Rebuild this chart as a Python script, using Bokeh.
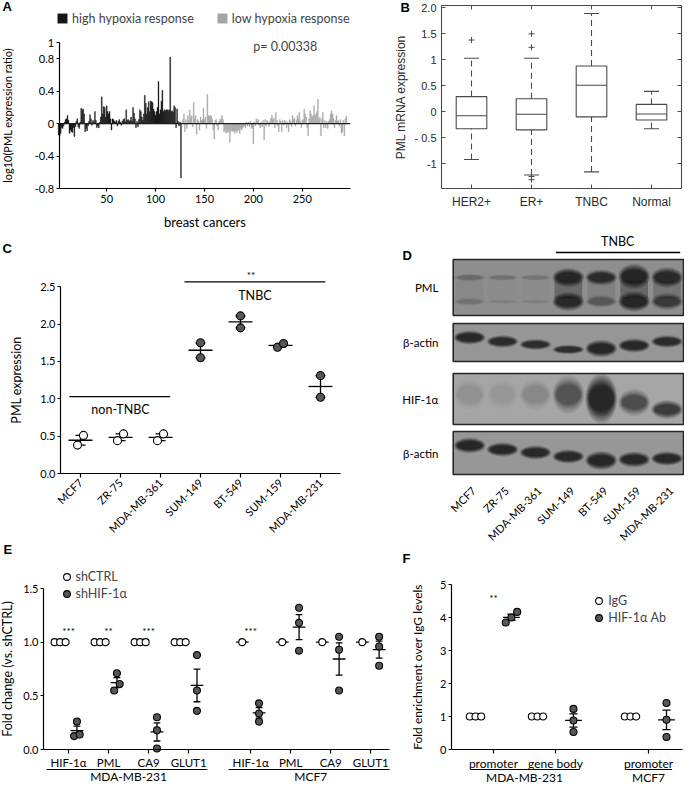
import math
import numpy as np
from bokeh.plotting import figure
from bokeh.layouts import row, column
from bokeh.models import Range1d, FixedTicker, LinearAxis, Legend, LegendItem, Label
from bokeh.core.properties import value
from bokeh.embed import file_html
from bokeh.resources import INLINE

FONT = "Lato"
FONT_B = "Liberation Sans"

# ---------------- Panel A data ----------------
A_high = [
    -0.14, -0.15, -0.12, -0.05, -0.06, -0.03, 0.02, 0.05, 0.06, 0.10,
    0.04, -0.12, -0.08, -0.10, -0.11, -0.05, -0.16, -0.04, 0.03, 0.06,
    -0.04, -0.06, 0.02, 0.19, 0.17, 0.18, 0.12, -0.10, -0.06, -0.09,
    -0.03, 0.03, 0.11, 0.06, -0.02, 0.04, 0.02, 0.15, 0.04, -0.05,
    -0.03, -0.05, 0.02, 0.08, 0.33, 0.12, 0.21, 0.20, 0.08, 0.22,
    0.15, 0.12, 0.15, 0.06, -0.08, 0.06, 0.05, 0.03, 0.02, 0.04,
    -0.03, 0.03, 0.05, 0.02, -0.02, 0.03, 0.05, 0.06, 0.02, 0.17,
    0.04, 0.05, 0.03, 0.04, 0.08, 0.03, 0.20, 0.13, 0.06, -0.05,
    0.03, -0.04, 0.05, 0.17, 0.15, 0.08, 0.04, 0.12, 0.35, 0.25,
    0.12, 0.20, 0.27, 0.15, 0.28, 0.27, 0.26, 0.18, 0.15, 0.10,
    0.15, 0.20, 0.52, 0.12, 0.17, 0.28, 0.41, 0.15, 0.17, 0.16,
    0.17, 0.17, 0.16, 0.17, 0.82, 0.15, 0.16, 0.14, 0.22, 0.20,
    -0.05, 0.18, 0.03, -0.03, 0.02, -0.67,
]
A_low = [
    0.02, 0.05, 0.12, -0.10, 0.05, -0.06, 0.10, 0.04, 0.17, 0.08,
    0.10, -0.04, 0.26, 0.06, 0.10, -0.13, 0.05, 0.03, -0.08, 0.08,
    0.04, 0.05, 0.19, 0.05, 0.08, -0.06, 0.36, 0.10, 0.09, 0.10,
    0.09, 0.05, -0.08, -0.19, 0.04, 0.05, -0.03, -0.08, 0.03, 0.05,
    0.06, 0.10, 0.05, -0.10, -0.08, -0.12, -0.10, -0.11, -0.09, -0.23,
    -0.10, -0.08, -0.10, -0.09, -0.12, -0.08, -0.11, -0.09, -0.07, -0.12,
    -0.06, -0.08, -0.05, -0.04, -0.03, -0.05, 0.02, -0.03, 0.02, -0.04,
    0.03, -0.06, -0.05, -0.25, 0.02, -0.03, 0.06, 0.03, 0.05, -0.02,
    -0.05, 0.02, -0.04, 0.04, -0.20, 0.05, -0.03, 0.04, 0.02, -0.04,
    0.03, 0.07, 0.10, 0.05, 0.07, -0.05, 0.14, 0.04, -0.03, -0.10,
    0.05, 0.03, -0.10, 0.04, -0.02, 0.04, 0.03, -0.05, 0.02, -0.10,
    0.05, 0.03, -0.04, 0.10, 0.05, 0.07, -0.03, 0.04, 0.10, 0.06,
    0.14, 0.03, -0.05, 0.04, 0.05, 0.18, 0.12, 0.08, -0.05, -0.15,
    0.06, 0.16, 0.12, 0.08, 0.10, 0.22, 0.10, 0.12, 0.15, 0.30,
    0.05, 0.08, -0.15, 0.06, 0.14, -0.05, 0.04, -0.05, 0.03, -0.06,
    0.03, 0.05, 0.12, 0.16, 0.12, 0.06, -0.05, 0.04, 0.10, 0.03,
    0.04, -0.03, 0.05, -0.12, -0.10, 0.04, -0.15, 0.06, 0.09,
]
A_pvalue = "p= 0.00338"
A_legend = ["high hypoxia response", "low hypoxia response"]
A_xticks = [50, 100, 150, 200, 250]
A_yticks = [-0.8, -0.4, 0, 0.4, 0.8, 1]
A_yticklabels = ["-0.8", "-0.4", "0", "0.4", "0.8", "1"]

# ---------------- Panel B data ----------------
B_groups = ["HER2+", "ER+", "TNBC", "Normal"]
B_q1 = [-0.33, -0.35, -0.10, -0.16]
B_med = [-0.08, -0.05, 0.51, -0.045]
B_q3 = [0.29, 0.25, 0.88, 0.14]
B_lo = [-0.92, -1.22, -1.16, -0.33]
B_hi = [1.03, 1.03, 1.89, 0.39]
B_out_group = [0, 1, 1, 1, 1]
B_out_val = [1.38, 1.50, 1.24, -1.25, -1.31]
B_yticks = [-1, -0.5, 0, 0.5, 1, 1.5, 2]
B_yticklabels = ["-1", "- 0.5", "0", "0.5", "1", "1.5", "2.0"]

# ---------------- Panel C data ----------------
C_cells = ["MCF7", "ZR-75", "MDA-MB-361", "SUM-149", "BT-549", "SUM-159", "MDA-MB-231"]
C_vals = [[0.38, 0.51], [0.44, 0.53], [0.44, 0.53], [1.55, 1.75],
          [1.95, 2.11], [1.69, 1.74], [1.02, 1.31]]
C_tnbc = [0, 0, 0, 1, 1, 1, 1]
C_yticks = [0, 0.5, 1, 1.5, 2, 2.5]
C_yticklabels = ["0.0", "0.5", "1.0", "1.5", "2.0", "2.5"]

# ---------------- Panel D data (band intensities, 0-1) ----------------
D_lanes = ["MCF7", "ZR-75", "MDA-MB-361", "SUM-149", "BT-549", "SUM-159", "MDA-MB-231"]
D_rows = ["PML", "β-actin", "HIF-1α", "β-actin"]
D_pml_upper = [0.20, 0.14, 0.12, 0.95, 0.85, 0.98, 0.90]
D_pml_lower = [0.14, 0.05, 0.05, 0.90, 0.32, 0.95, 0.62]
D_actin1 = [0.95, 0.90, 0.85, 0.85, 0.97, 0.92, 0.90]
D_hif = [0.07, 0.04, 0.12, 0.45, 1.0, 0.50, 0.68]
D_actin2 = [0.97, 0.95, 0.92, 0.92, 0.97, 0.95, 0.95]

# ---------------- Panel E data ----------------
E_genes = ["HIF-1α", "PML", "CA9", "GLUT1"]
E_cells = ["MDA-MB-231", "MCF7"]
E_ctrl = [[[1.0, 1.0, 1.0], [1.0, 1.0, 1.0], [1.0, 1.0, 1.0], [1.0, 1.0, 1.0]],
          [[1.0], [1.0], [1.0], [1.0]]]
E_sh = [[[0.26, 0.125, 0.14], [0.71, 0.55, 0.61], [0.30, 0.18, 0.01], [0.88, 0.55, 0.36]],
        [[0.43, 0.335, 0.26], [1.32, 1.18, 0.92], [1.05, 0.93, 0.55], [1.05, 0.96, 0.78]]]
E_stars = [["***", "**", "***", ""], ["***", "", "", ""]]
E_legend = ["shCTRL", "shHIF-1α"]
E_yticks = [0, 0.5, 1, 1.5]
E_yticklabels = ["0.0", "0.5", "1.0", "1.5"]

# ---------------- Panel F data ----------------
F_regions = ["promoter", "gene body", "promoter"]
F_region_cell = [0, 0, 1]
F_cells = ["MDA-MB-231", "MCF7"]
F_igg = [[1.0, 1.0, 1.0], [1.0, 1.0, 1.0], [1.0, 1.0, 1.0]]
F_hif = [[4.17, 3.85, 4.0], [1.23, 0.88, 0.53], [1.41, 0.90, 0.38]]
F_stars = ["**", "", ""]
F_legend = ["IgG", "HIF-1α Ab"]
F_yticks = [0, 1, 2, 3, 4, 5]

# ---------------- helpers ----------------
DOT = "#575757"


def xr(W, v0, px0, ppu):
    a = v0 - px0 / ppu
    return Range1d(a, a + W / ppu)


def yr(H, v0, py0, ppu):
    top = v0 + py0 / ppu
    return Range1d(top - H / ppu, top)


def make_fig(W, H, xrange, yrange):
    p = figure(width=W, height=H, x_range=xrange, y_range=yrange, min_border=0, title=None,
               output_backend="svg", toolbar_location=None)
    p.outline_line_color = None
    p.grid.visible = False
    return p


def style_axes(p, font=FONT, size="11px", tick_out=4):
    for ax in p.axis:
        ax.axis_line_color = "black"
        ax.axis_line_width = 1.2
        ax.major_tick_line_color = "black"
        ax.major_tick_line_width = 1.2
        ax.major_tick_in = 0
        ax.major_tick_out = tick_out
        ax.minor_tick_line_color = None
        ax.major_label_text_font = font
        ax.major_label_text_font_size = size
        ax.major_label_text_color = "black"
        ax.axis_label_text_font = font
        ax.axis_label_text_font_style = "normal"
        ax.axis_label_text_color = "black"


def letter(p, txt, x, y):
    p.add_layout(Label(x=x, y=y, x_units="screen", y_units="screen", text=txt,
                       text_font=FONT_B, text_font_style="bold", text_font_size="13px",
                       text_baseline="middle", text_align="left", text_color="black"))


def spread(vals, ppu, thr, step):
    order = sorted(range(len(vals)), key=lambda i: vals[i])
    clusters = []
    for i in order:
        if clusters and (vals[i] - vals[clusters[-1][-1]]) * ppu < thr:
            clusters[-1].append(i)
        else:
            clusters.append([i])
    offs = [0.0] * len(vals)
    for c in clusters:
        n = len(c)
        for j, i in enumerate(c):
            offs[i] = (j - (n - 1) / 2) * step
    return offs


def add_points(p, centers, groups, ppu, thr, step, size, fill):
    xs, ys = [], []
    for c, vals in zip(centers, groups):
        offs = spread(vals, ppu, thr, step)
        xs += [c + o for o in offs]
        ys += list(vals)
    return p.scatter(x=xs, y=ys, size=size, marker="circle", fill_color=fill,
                     line_color="black", line_width=1.1)


def add_stats(p, centers, groups, hw, cw, lw=1.3):
    x0, x1, y0, y1 = [], [], [], []
    for c, vals in zip(centers, groups):
        a = np.asarray(vals, float)
        m = float(a.mean())
        s = float(a.std(ddof=1) / np.sqrt(len(a))) if len(a) > 1 else 0.0
        x0.append(c - hw); x1.append(c + hw); y0.append(m); y1.append(m)
        if s > 1e-9:
            x0 += [c, c - cw, c - cw]
            x1 += [c, c + cw, c + cw]
            y0 += [m - s, m - s, m + s]
            y1 += [m + s, m - s, m + s]
    p.segment(x0=x0, y0=y0, x1=x1, y1=y1, line_color="black", line_width=lw)


# ================= Panel A =================
AW, AH = 394, 237
A_xb = (1.5, 299)
A_yb = (-0.8, 1.0)
pA = make_fig(AW, AH, xr(AW, A_xb[0], 58.7, 291 / (A_xb[1] - A_xb[0])),
              yr(AH, A_yb[1], 42, 146 / (A_yb[1] - A_yb[0])))
xh = list(range(1, len(A_high) + 1))
xl = list(range(len(A_high) + 1, len(A_high) + len(A_low) + 1))
rh = pA.vbar(x=xh, top=A_high, bottom=0, width=1.0, fill_color="#161616",
             line_color="#161616", line_width=0.3)
rl = pA.vbar(x=xl, top=A_low, bottom=0, width=1.0, fill_color="#a5a5a5",
             line_color="#a5a5a5", line_width=0.3)
pA.segment(x0=[A_xb[0]], x1=[A_xb[1]], y0=[0], y1=[0], line_color="#1e1e1e", line_width=1.4)
style_axes(pA, size="11px", tick_out=3)
pA.xaxis.fixed_location = A_yb[0]
pA.yaxis.fixed_location = A_xb[0]
pA.xaxis.bounds = A_xb
pA.yaxis.bounds = A_yb
pA.xaxis.ticker = FixedTicker(ticks=A_xticks)
pA.yaxis.ticker = FixedTicker(ticks=A_yticks)
pA.yaxis.major_label_overrides = {t: s for t, s in zip(A_yticks, A_yticklabels)}
pA.yaxis.major_label_standoff = 2
pA.xaxis.major_label_standoff = 3
pA.yaxis.axis_label = "log10(PML expression ratio)"
pA.yaxis.axis_label_text_font_size = "11px"
pA.yaxis.axis_label_standoff = 18
pA.xaxis.axis_label = "breast cancers"
pA.xaxis.axis_label_text_font_size = "13px"
pA.xaxis.axis_label_standoff = 8
legA = Legend(items=[LegendItem(label=A_legend[0], renderers=[rh]),
                     LegendItem(label=A_legend[1], renderers=[rl])],
              orientation="horizontal", location=(56, AH - 25.5), glyph_width=12, glyph_height=12,
              label_height=14, label_standoff=4, spacing=22, padding=0, margin=0,
              border_line_color=None, background_fill_alpha=0,
              label_text_font=FONT, label_text_font_size="12.5px")
pA.add_layout(legA)
pA.add_layout(Label(x=200, y=0.955, text=A_pvalue, text_font=FONT, text_font_size="12.5px",
                    text_baseline="middle", text_align="left"))
letter(pA, "A", 2, AH - 6)

# ================= Panel B =================
BC = "#4a4a4a"
BW, BH = 290, 222
B_xb = (0.5, 4.5)
B_yb = (-1.48, 2.045)
pB = make_fig(BW, BH, xr(BW, B_xb[0], 47, 240 / (B_xb[1] - B_xb[0])),
              yr(BH, B_yb[1], 5, 183 / (B_yb[1] - B_yb[0])))
bx = list(range(1, len(B_groups) + 1))
hw = 0.255
pB.quad(left=[x - hw for x in bx], right=[x + hw for x in bx], bottom=B_q1, top=B_q3,
        fill_color="white", line_color=BC, line_width=1.1)
pB.segment(x0=[x - hw for x in bx], x1=[x + hw for x in bx], y0=B_med, y1=B_med,
           line_color=BC, line_width=1.1)
pB.segment(x0=bx, x1=bx, y0=B_q3, y1=B_hi, line_color=BC, line_width=1.1, line_dash="6 4")
pB.segment(x0=bx, x1=bx, y0=B_lo, y1=B_q1, line_color=BC, line_width=1.1, line_dash="6 4")
pB.segment(x0=[x - 0.125 for x in bx], x1=[x + 0.125 for x in bx], y0=B_hi, y1=B_hi,
           line_color=BC, line_width=1.1)
pB.segment(x0=[x - 0.125 for x in bx], x1=[x + 0.125 for x in bx], y0=B_lo, y1=B_lo,
           line_color=BC, line_width=1.1)
pB.scatter(x=[bx[g] for g in B_out_group], y=B_out_val, marker="cross", size=6,
           line_color=BC, line_width=1.0)
pB.add_layout(LinearAxis(), "right")
pB.add_layout(LinearAxis(), "above")
style_axes(pB, font=FONT_B, size="11px")
for ax in pB.axis:
    ax.axis_line_color = BC
    ax.axis_line_width = 1.1
    ax.major_tick_in = 4
    ax.major_tick_out = 0
    ax.major_tick_line_color = BC
    ax.major_tick_line_width = 1
    ax.major_label_text_color = "#2a2a2a"
    ax.axis_label_text_color = "#2a2a2a"
for ax in pB.left + pB.right:
    ax.ticker = FixedTicker(ticks=B_yticks)
    ax.bounds = B_yb
for ax in pB.below + pB.above:
    ax.ticker = FixedTicker(ticks=bx)
    ax.bounds = B_xb
pB.left[0].fixed_location = B_xb[0]
pB.right[0].fixed_location = B_xb[1]
pB.below[0].fixed_location = B_yb[0]
pB.above[0].fixed_location = B_yb[1]
for ax in pB.right + pB.above:
    ax.major_label_text_color = None
pB.left[0].major_label_overrides = {t: s for t, s in zip(B_yticks, B_yticklabels)}
pB.left[0].major_label_standoff = 5
pB.left[0].axis_label = "PML mRNA expression"
pB.left[0].axis_label_text_font_size = "12px"
pB.left[0].axis_label_standoff = 3
pB.below[0].major_label_overrides = {x: g for x, g in zip(bx, B_groups)}
pB.below[0].major_label_text_font_size = "12px"
pB.below[0].major_label_standoff = 6
letter(pB, "B", 6, BH - 7)

# ================= Panel C =================
CW, CH = 394, 305
C_xb = (-0.5, 6.5)
C_yb = (0, 2.5)
C_ppu = 74.69
pC = make_fig(CW, CH, xr(CW, C_xb[0], 60, 40), yr(CH, 0.0, 236, C_ppu))
cx = list(range(len(C_cells)))
add_stats(pC, cx, C_vals, 0.3, 0.125)
non = [i for i in cx if not C_tnbc[i]]
tn = [i for i in cx if C_tnbc[i]]
add_points(pC, non, [C_vals[i] for i in non], C_ppu, 11, 0.15, 8, "white")
add_points(pC, tn, [C_vals[i] for i in tn], C_ppu, 11, 0.15, 8, DOT)
tn_mid = (tn[0] - 0.4 + tn[-1] + 0.12) / 2
pC.segment(x0=[non[0] - 0.28, tn[0] - 0.4], x1=[non[-1] + 0.24, tn[-1] + 0.12],
           y0=[1.03, 2.566], y1=[1.03, 2.566], line_color="black", line_width=1.3)
pC.text(x=[(non[0] + non[-1]) / 2, tn_mid], y=[0.86, 2.383], text=["non-TNBC", "TNBC"],
        text_align="center", text_baseline="middle", text_font=value(FONT),
        text_font_size="12.5px")
pC.text(x=[tn_mid - 0.1], y=[2.66], text=["**"], text_align="center",
        text_baseline="middle", text_font=value(FONT), text_font_size="10px")
style_axes(pC, size="11px", tick_out=4)
pC.xaxis.fixed_location = 0.0
pC.yaxis.fixed_location = C_xb[0]
pC.xaxis.bounds = C_xb
pC.yaxis.bounds = C_yb
pC.yaxis.major_tick_out = 3
pC.yaxis.ticker = FixedTicker(ticks=C_yticks)
pC.yaxis.major_label_overrides = {t: s for t, s in zip(C_yticks, C_yticklabels)}
pC.yaxis.major_label_standoff = 2
pC.yaxis.axis_label = "PML expression"
pC.yaxis.axis_label_text_font_size = "12.5px"
pC.yaxis.axis_label_standoff = 13
pC.xaxis.ticker = FixedTicker(ticks=cx)
pC.xaxis.major_label_overrides = {i: c for i, c in zip(cx, C_cells)}
pC.xaxis.major_label_orientation = math.pi / 4
pC.xaxis.major_label_standoff = 3
letter(pC, "C", 2, CH - 11)

# ================= Panel D =================
DW, DH = 290, 322
pD = figure(width=DW, height=DH, x_range=Range1d(-2.285, 6.53), y_range=Range1d(DH, 0),
            output_backend="svg", toolbar_location=None, min_border=0, title=None,
            x_axis_location=None, y_axis_location=None)
pD.outline_line_color = None
pD.grid.visible = False
lanes = list(range(len(D_lanes)))
P_top = [37, 101, 151, 209]
P_bot = [93, 139, 202, 252]
P_bg = ["#8e8e8e", "#969696", "#a5a5a5", "#979797"]
pD.quad(left=[-0.5] * 4, right=[6.5] * 4, top=P_top, bottom=P_bot, fill_color=P_bg,
        line_color=None)

LAYERS = [(1.08, 1.6, 0.14), (1.03, 1.45, 0.18), (0.98, 1.3, 0.22),
          (0.93, 1.15, 0.28), (0.88, 1.0, 0.36), (0.83, 0.85, 0.45)]


def bands(ys, th, inten, w=0.9, color="#141414"):
    n = len(lanes)
    for wf, hf, af in LAYERS:
        pD.ellipse(x=lanes, y=ys, width=[w * wf] * n, height=[t * hf for t in th],
                   fill_color=color, fill_alpha=[min(1.0, a * af) for a in inten],
                   line_color=None)


pD.rect(x=lanes, y=[67] * 7, width=[0.84] * 7, height=[18] * 7, fill_color="#1a1a1a",
        fill_alpha=[0.35 * min(a, b) for a, b in zip(D_pml_upper, D_pml_lower)], line_color=None)
bands([55, 55, 55, 55, 55, 54, 55], [5, 4, 4, 12, 10, 16, 13], D_pml_upper)
bands([79] * 7, [5, 3, 3, 12, 8, 13, 11], D_pml_lower)
bands([115, 119, 122, 127, 126, 123, 119], [9, 8, 7, 6, 11, 9, 8], D_actin1)
bands([172, 172, 172, 172, 176, 180, 187], [20, 20, 20, 24, 31, 17, 12], D_hif)
bands([223, 227, 230, 234, 238, 237, 236], [10, 9, 9, 9, 12, 10, 9], D_actin2)
pD.quad(left=[-0.5] * 4, right=[6.5] * 4, top=P_top, bottom=P_bot, fill_color=None,
        line_color="#262626", line_width=1.6)
pD.text(x=[-0.95] * 4, y=[(t + b) / 2 for t, b in zip(P_top, P_bot)], text=D_rows,
        text_align="right", text_baseline="middle", text_font=value(FONT),
        text_font_size="11.5px")
pD.text(x=[l + 0.12 for l in lanes], y=[266] * 7, text=D_lanes, angle=math.pi / 4,
        text_align="right", text_baseline="middle", text_font=value(FONT),
        text_font_size="11px")
tn_l = [i for i in lanes if C_tnbc[i]]
pD.segment(x0=[tn_l[0] - 0.38], x1=[tn_l[-1] + 0.4], y0=[30], y1=[30], line_color="black",
           line_width=1.3)
pD.text(x=[(tn_l[0] + tn_l[-1]) / 2], y=[19], text=["TNBC"], text_align="center",
        text_baseline="middle", text_font=value(FONT), text_font_size="12.5px")
pD.text(x=[-2.04], y=[33], text=["D"], text_align="left", text_baseline="middle",
        text_font=value(FONT_B), text_font_style="bold", text_font_size="13px")

# ================= Panel E =================
EW, EH = 394, 242
E_gap = 4.55
E_xb = (-0.625, 8.0175)
E_yb = (0, 1.5)
E_y0px = 207
E_ppu = (E_y0px - 46) / 1.5
pE = make_fig(EW, EH, xr(EW, E_xb[0], 43, 40.03), yr(EH, 0.0, E_y0px, E_ppu))
E_pos = [g * E_gap + k for g in range(len(E_cells)) for k in range(len(E_genes))]
ctrl_groups = [v for g in E_ctrl for v in g]
sh_groups = [v for g in E_sh for v in g]
off = 0.21
add_stats(pE, [p - off for p in E_pos], ctrl_groups, 0.16, 0.085)
add_stats(pE, [p + off for p in E_pos], sh_groups, 0.16, 0.085)
rE1 = add_points(pE, [p - off for p in E_pos], ctrl_groups, E_ppu, 7, 0.1375, 7, "white")
rE2 = add_points(pE, [p + off for p in E_pos], sh_groups, E_ppu, 7, 0.1375, 7, DOT)
stars = [s for g in E_stars for s in g]
pE.text(x=E_pos, y=[1.10] * len(E_pos), text=stars, text_align="center",
        text_baseline="middle", text_font=value(FONT), text_font_size="10px")
style_axes(pE, size="11px", tick_out=4)
pE.xaxis.fixed_location = 0.0
pE.yaxis.fixed_location = E_xb[0]
pE.xaxis.bounds = E_xb
pE.yaxis.bounds = E_yb
pE.yaxis.major_tick_out = 3
pE.yaxis.ticker = FixedTicker(ticks=E_yticks)
pE.yaxis.major_label_overrides = {t: s for t, s in zip(E_yticks, E_yticklabels)}
pE.yaxis.major_label_standoff = 2
pE.yaxis.axis_label = "Fold change (vs. shCTRL)"
pE.yaxis.axis_label_text_font_size = "12.5px"
pE.yaxis.axis_label_standoff = 5
pE.xaxis.ticker = FixedTicker(ticks=E_pos)
pE.xaxis.major_label_overrides = {p: E_genes[i % len(E_genes)] for i, p in enumerate(E_pos)}
pE.xaxis.major_label_text_font_size = "11.5px"
pE.xaxis.major_label_standoff = 2
legE = Legend(items=[LegendItem(label=E_legend[0], renderers=[rE1]),
                     LegendItem(label=E_legend[1], renderers=[rE2])],
              location=(57.5, EH - 59.5), glyph_width=17, glyph_height=17, label_height=17,
              label_standoff=1, spacing=0, padding=0, margin=0, border_line_color=None,
              background_fill_alpha=0, label_text_font=FONT, label_text_font_size="12.5px")
pE.add_layout(legE)
ux0, ux1, gx = [], [], []
for g in range(len(E_cells)):
    a = g * E_gap
    b = g * E_gap + len(E_genes) - 1
    ux0.append(a - 0.55); ux1.append(b + 0.47); gx.append((a + b) / 2)
pE.segment(x0=ux0, x1=ux1, y0=[-(227 - E_y0px) / E_ppu] * 2, y1=[-(227 - E_y0px) / E_ppu] * 2,
           line_color="black", line_width=1.2)
pE.text(x=gx, y=[-(234 - E_y0px) / E_ppu] * 2, text=E_cells, text_align="center",
        text_baseline="middle", text_font=value(FONT), text_font_size="12px")
letter(pE, "E", 3, EH - 7)

# ================= Panel F =================
FW, FH = 290, 240
F_pos = [0, 1, 2.5]
F_xb = (-0.677, 3.048)
F_yb = (0, 5)
F_y0px = 205
F_ppu = (F_y0px - 40) / 5.0
pF = make_fig(FW, FH, xr(FW, F_xb[0], 57, 231 / (F_xb[1] - F_xb[0])), yr(FH, 0.0, F_y0px, F_ppu))
foff = 0.29
add_stats(pF, [p - foff for p in F_pos], F_igg, 0.135, 0.065)
add_stats(pF, [p + foff for p in F_pos], F_hif, 0.135, 0.065)
rF1 = add_points(pF, [p - foff for p in F_pos], F_igg, F_ppu, 8, 0.092, 7, "white")
rF2 = add_points(pF, [p + foff for p in F_pos], F_hif, F_ppu, 8, 0.092, 7, DOT)
pF.text(x=F_pos, y=[4.6] * len(F_pos), text=F_stars, text_align="center",
        text_baseline="middle", text_font=value(FONT), text_font_size="10px")
style_axes(pF, size="11px", tick_out=4)
pF.xaxis.fixed_location = 0.0
pF.yaxis.fixed_location = F_xb[0]
pF.xaxis.bounds = F_xb
pF.yaxis.bounds = F_yb
pF.yaxis.major_tick_out = 3
pF.yaxis.ticker = FixedTicker(ticks=F_yticks)
pF.yaxis.major_label_standoff = 2
pF.yaxis.axis_label = "Fold enrichment over IgG levels"
pF.yaxis.axis_label_text_font_size = "12px"
pF.yaxis.axis_label_standoff = 12
pF.xaxis.ticker = FixedTicker(ticks=F_pos)
pF.xaxis.major_label_overrides = {p: r for p, r in zip(F_pos, F_regions)}
pF.xaxis.major_label_text_font_size = "12px"
pF.xaxis.major_label_standoff = 2
legF = Legend(items=[LegendItem(label=F_legend[0], renderers=[rF1]),
                     LegendItem(label=F_legend[1], renderers=[rF2])],
              location=(196.2, FH - 81.5), glyph_width=17, glyph_height=17, label_height=17,
              label_standoff=1, spacing=0, padding=0, margin=0, border_line_color=None,
              background_fill_alpha=0, label_text_font=FONT, label_text_font_size="12.5px")
pF.add_layout(legF)
fx0, fx1, fgx = [], [], []
for g in range(len(F_cells)):
    idx = [i for i, c in enumerate(F_region_cell) if c == g]
    a = F_pos[idx[0]]
    b = F_pos[idx[-1]]
    fx0.append(a - 0.36); fx1.append(b + 0.38); fgx.append((a + b) / 2)
pF.segment(x0=fx0, x1=fx1, y0=[-(225 - F_y0px) / F_ppu] * 2,
           y1=[-(225 - F_y0px) / F_ppu] * 2, line_color="black", line_width=1.2)
pF.text(x=fgx, y=[-(232.5 - F_y0px) / F_ppu] * 2, text=F_cells, text_align="center",
        text_baseline="middle", text_font=value(FONT), text_font_size="12px")
letter(pF, "F", 8, FH - 14)

layout = row(column(pA, pC, pE, spacing=0), column(pB, pD, pF, spacing=0), spacing=0)
open("out.html", "w").write(file_html(layout, INLINE))
